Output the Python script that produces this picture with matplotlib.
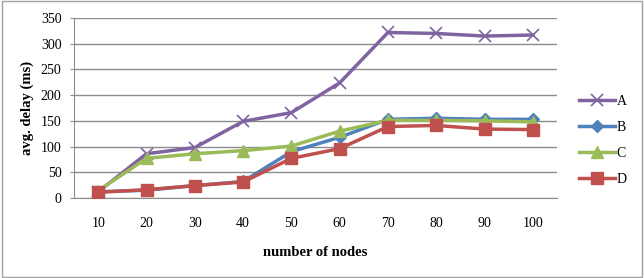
import matplotlib
matplotlib.use("Agg")
import matplotlib.pyplot as plt
from matplotlib.patches import Rectangle

nodes = ["10", "20", "30", "40", "50", "60", "70", "80", "90", "100"]
A = [12, 86, 98, 149, 166, 224, 322, 320, 315, 317]
B = [12, 15, 24, 32, 90, 118, 153, 155, 153, 153]
C = [14, 77, 86, 92, 101, 130, 151, 151, 150, 148]
D = [11, 16, 24, 31, 77, 96, 139, 141, 134, 133]

plt.rcParams['font.family'] = ['Liberation Serif', 'DejaVu Serif']

fig = plt.figure(figsize=(6.44, 2.78), dpi=100)
ax = fig.add_axes([0.115, 0.288, 0.75, 0.647])

x = list(range(len(nodes)))
ax.plot(x, A, color='#8064A2', lw=2.5, marker='x', ms=8, mew=1.2, label='A', zorder=3)
ax.plot(x, B, color='#4F81BD', lw=2.5, marker='D', ms=6, label='B', zorder=3)
ax.plot(x, C, color='#9BBB59', lw=2.5, marker='^', ms=8, label='C', zorder=3)
ax.plot(x, D, color='#C0504D', lw=2.5, marker='s', ms=8, label='D', zorder=4)

ax.set_xlim(-0.5, len(nodes) - 0.5)
ax.set_ylim(0, 350)
ax.set_yticks(range(0, 351, 50))
ax.set_xticks(x)
ax.set_xticklabels(nodes)
ax.yaxis.grid(True, color='#8c8c8c', lw=1)
ax.set_axisbelow(True)
for s in ['top', 'right']:
    ax.spines[s].set_visible(False)
for s in ['left', 'bottom']:
    ax.spines[s].set_color('#8c8c8c')
ax.tick_params(axis='x', length=0, pad=14, labelsize=10)
ax.tick_params(axis='y', length=3, color='#8c8c8c', pad=6, labelsize=10)

ax.set_xlabel('number of nodes', fontweight='bold', fontsize=10.5, labelpad=11)
ax.set_ylabel('avg. delay (ms)', fontweight='bold', fontsize=10.5, labelpad=5)

ax.legend(loc='center left', bbox_to_anchor=(1.02, 0.32), frameon=False,
          fontsize=10, handlelength=2.6, labelspacing=0.95, handletextpad=0.1)

fig.patches.append(Rectangle((0.003, 0.005), 0.994, 0.99, transform=fig.transFigure,
                             fill=False, edgecolor='#a0a0a0', lw=1))

fig.savefig('out.png', dpi=100)
